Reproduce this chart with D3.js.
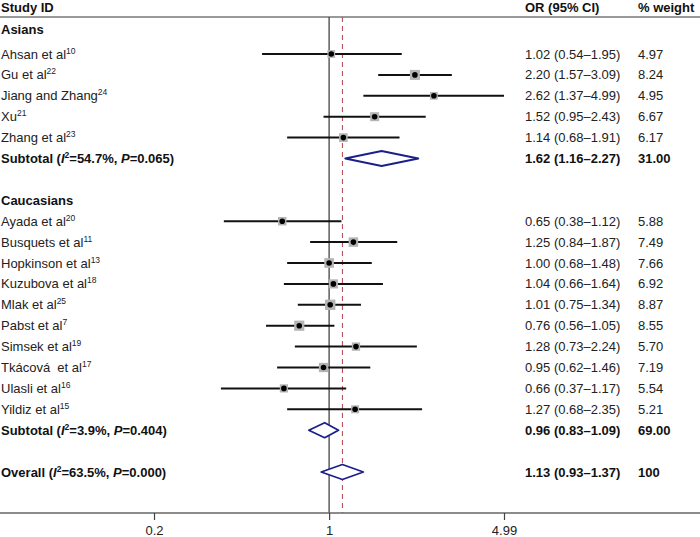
<!DOCTYPE html>
<html>
<head>
<meta charset="utf-8">
<script src="https://cdn.jsdelivr.net/npm/d3@7/dist/d3.min.js"></script>
<style>
  html, body { margin: 0; padding: 0; background: #fff; }
  svg { display: block; font-family: "Liberation Sans", Arial, sans-serif; }
  text { white-space: pre; }
</style>
</head>
<body>
<svg id="chart" width="700" height="537"></svg>
<script>
// ---------- data ----------
const groupNames = ["Asians", "Caucasians"];
const studyNames = ["Ahsan et al", "Gu et al", "Jiang and Zhang", "Xu", "Zhang et al",
  "Ayada et al", "Busquets et al", "Hopkinson et al", "Kuzubova et al", "Mlak et al",
  "Pabst et al", "Simsek et al", "Tkácová  et al", "Ulasli et al", "Yildiz et al"];
const studyRefs = ["10", "22", "24", "21", "23", "20", "11", "13", "18", "25", "7", "19", "17", "16", "15"];
const studyGroup = [0, 0, 0, 0, 0, 1, 1, 1, 1, 1, 1, 1, 1, 1, 1];
const orValues = [1.02, 2.20, 2.62, 1.52, 1.14, 0.65, 1.25, 1.00, 1.04, 1.01, 0.76, 1.28, 0.95, 0.66, 1.27];
const ciLower  = [0.54, 1.57, 1.37, 0.95, 0.68, 0.38, 0.84, 0.68, 0.66, 0.75, 0.56, 0.73, 0.62, 0.37, 0.68];
const ciUpper  = [1.95, 3.09, 4.99, 2.43, 1.91, 1.12, 1.87, 1.48, 1.64, 1.34, 1.05, 2.24, 1.46, 1.17, 2.35];
const weights  = [4.97, 8.24, 4.95, 6.67, 6.17, 5.88, 7.49, 7.66, 6.92, 8.87, 8.55, 5.70, 7.19, 5.54, 5.21];

const subtotalOR = [1.62, 0.96];
const subtotalLo = [1.16, 0.83];
const subtotalHi = [2.27, 1.09];
const subtotalWeight = ["31.00", "69.00"];
const subtotalI2 = ["54.7%", "3.9%"];
const subtotalP = ["0.065", "0.404"];

const overallOR = 1.13, overallLo = 0.93, overallHi = 1.37;
const overallWeight = "100", overallI2 = "63.5%", overallP = "0.000";

const tickValues = [0.2, 1, 4.99];
const tickLabels = ["0.2", "1", "4.99"];

// ---------- layout ----------
const W = 700, H = 537;
const svg = d3.select("#chart");
const headerLineY = 17, axisY = 513;
const x = d3.scaleLog().domain([0.2, 4.99]).range([154, 504]);
const rowY = i => i === 0 ? 29.5 : 54 + (i - 1) * 20.9;
const boxSide = d3.scaleSqrt().domain([0, 10]).range([0, 11]);
const colLabel = 1, colOR = 525, colW = 638;
const fs = 13;

// build rows
const rows = [];
let idx = 0;
groupNames.forEach((g, gi) => {
  rows.push({type: "group", label: g, i: idx++});
  studyGroup.forEach((sg, si) => {
    if (sg === gi) rows.push({type: "study", s: si, i: idx++});
  });
  rows.push({type: "subtotal", g: gi, i: idx++});
  idx++; // blank row
});
rows.push({type: "overall", i: idx++});

const fmt = v => v.toFixed(2);
const ciText = (o, l, h) => `${fmt(o)} (${fmt(l)}–${fmt(h)})`;

// header
svg.append("text").attr("x", colLabel).attr("y", 11.5).attr("font-size", fs).attr("font-weight", "bold").attr("fill", "#111").text("Study ID");
svg.append("text").attr("x", colOR).attr("y", 11.5).attr("font-size", fs).attr("font-weight", "bold").attr("fill", "#111").text("OR (95% CI)");
svg.append("text").attr("x", colW).attr("y", 11.5).attr("font-size", fs).attr("font-weight", "bold").attr("fill", "#111").text("% weight");
svg.append("line").attr("x1", 0).attr("x2", W).attr("y1", headerLineY).attr("y2", headerLineY)
  .attr("stroke", "#777").attr("stroke-width", 1.6);

// reference lines
svg.append("line").attr("x1", x(1)).attr("x2", x(1)).attr("y1", headerLineY).attr("y2", axisY)
  .attr("stroke", "#444").attr("stroke-width", 1.3);
svg.append("line").attr("x1", x(overallOR)).attr("x2", x(overallOR)).attr("y1", headerLineY).attr("y2", axisY)
  .attr("stroke", "#b5404a").attr("stroke-width", 1).attr("stroke-dasharray", "5,4");

// axis
svg.append("line").attr("x1", 0).attr("x2", W).attr("y1", axisY).attr("y2", axisY)
  .attr("stroke", "#666").attr("stroke-width", 1.4);
const axis = d3.axisBottom(x).tickValues(tickValues).tickFormat((d, i) => tickLabels[i]).tickSize(7).tickPadding(6);
const ax = svg.append("g").attr("transform", `translate(0,${axisY})`).call(axis);
ax.select(".domain").remove();
ax.selectAll(".tick line").attr("stroke", "#444").attr("stroke-width", 1.2);
ax.selectAll(".tick text").attr("font-size", 13).attr("fill", "#222").attr("font-family", "Liberation Sans, Arial, sans-serif");

function labelWithSup(g, y, name, sup) {
  const t = g.append("text").attr("x", colLabel).attr("y", y).attr("font-size", fs).attr("fill", "#222");
  t.append("tspan").text(name);
  t.append("tspan").attr("font-size", 8.5).attr("dy", -5).text(sup);
}
function statLabel(g, y, prefix, i2, p) {
  const t = g.append("text").attr("x", colLabel).attr("y", y).attr("font-size", fs).attr("font-weight", "bold").attr("fill", "#111");
  t.append("tspan").text(prefix + " (");
  t.append("tspan").attr("font-style", "italic").text("I");
  t.append("tspan").attr("font-size", 8.5).attr("dy", -5).text("2");
  t.append("tspan").attr("dy", 5).text("=" + i2 + ", ");
  t.append("tspan").attr("font-style", "italic").text("P");
  t.append("tspan").text("=" + p + ")");
}
function diamond(g, y, lo, est, hi) {
  const h = 7.5;
  const pts = [[x(lo), y], [x(est), y - h], [x(hi), y], [x(est), y + h]];
  g.append("path").attr("d", d3.line()(pts) + "Z").attr("fill", "#fff")
    .attr("stroke", "#1a1f8a").attr("stroke-width", 1.8).attr("stroke-linejoin", "round");
}

const g = svg.append("g");
rows.forEach(r => {
  const y = rowY(r.i);
  const by = y + 4.5;
  if (r.type === "group") {
    g.append("text").attr("x", colLabel).attr("y", by).attr("font-size", fs).attr("font-weight", "bold").attr("fill", "#111").text(r.label);
  } else if (r.type === "study") {
    const s = r.s;
    labelWithSup(g, by, studyNames[s], studyRefs[s]);
    g.append("line").attr("x1", x(ciLower[s])).attr("x2", x(ciUpper[s])).attr("y1", y).attr("y2", y)
      .attr("stroke", "#111").attr("stroke-width", 2);
    const side = boxSide(weights[s]);
    g.append("rect").attr("x", x(orValues[s]) - side / 2).attr("y", y - side / 2)
      .attr("width", side).attr("height", side).attr("fill", "#b4b4b4");
    g.append("circle").attr("cx", x(orValues[s])).attr("cy", y).attr("r", 2.8).attr("fill", "#000");
    g.append("text").attr("x", colOR).attr("y", by).attr("font-size", fs).attr("fill", "#222").text(ciText(orValues[s], ciLower[s], ciUpper[s]));
    g.append("text").attr("x", colW).attr("y", by).attr("font-size", fs).attr("fill", "#222").text(fmt(weights[s]));
  } else if (r.type === "subtotal") {
    const k = r.g;
    statLabel(g, by, "Subtotal", subtotalI2[k], subtotalP[k]);
    diamond(g, y, subtotalLo[k], subtotalOR[k], subtotalHi[k]);
    g.append("text").attr("x", colOR).attr("y", by).attr("font-size", fs).attr("font-weight", "bold").attr("fill", "#111").text(ciText(subtotalOR[k], subtotalLo[k], subtotalHi[k]));
    g.append("text").attr("x", colW).attr("y", by).attr("font-size", fs).attr("font-weight", "bold").attr("fill", "#111").text(subtotalWeight[k]);
  } else if (r.type === "overall") {
    statLabel(g, by, "Overall", overallI2, overallP);
    diamond(g, y, overallLo, overallOR, overallHi);
    g.append("text").attr("x", colOR).attr("y", by).attr("font-size", fs).attr("font-weight", "bold").attr("fill", "#111").text(ciText(overallOR, overallLo, overallHi));
    g.append("text").attr("x", colW).attr("y", by).attr("font-size", fs).attr("font-weight", "bold").attr("fill", "#111").text(overallWeight);
  }
});
</script>
</body>
</html>
